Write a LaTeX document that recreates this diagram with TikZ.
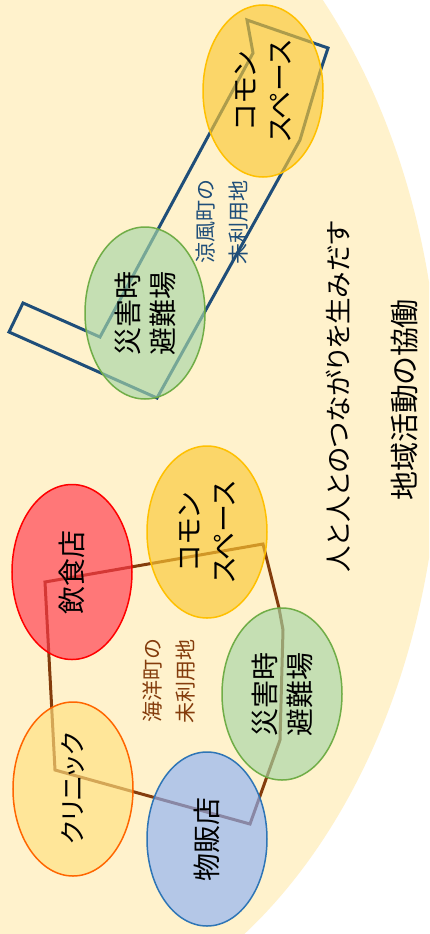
\documentclass[tikz,border=0pt]{standalone}
\usepackage{fontspec}
\newfontfamily\jpfont[RawFeature=+palt]{Noto Sans CJK JP}
\usepackage{tikz}
\usetikzlibrary{shapes.geometric}

\definecolor{BgYellow}{HTML}{FFF2CC}
\definecolor{SuzuBlue}{HTML}{1F4E79}
\definecolor{KaiBrown}{HTML}{843C0C}
\definecolor{CommonFill}{RGB}{250,199,52}
\definecolor{CommonLine}{HTML}{FFC000}
\definecolor{ShelterFill}{RGB}{166,214,167}
\definecolor{ShelterLine}{HTML}{70AD47}
\definecolor{EatFill}{RGB}{255,54,75}
\definecolor{EatLine}{HTML}{FF0000}
\definecolor{ClinicFill}{RGB}{255,224,126}
\definecolor{ClinicLine}{HTML}{FF6600}
\definecolor{ShopFill}{RGB}{140,176,246}
\definecolor{ShopLine}{HTML}{2E75B6}

\begin{document}
\begin{tikzpicture}[x=1bp, y=-1bp, font=\jpfont,
  Spot/.style={ellipse, draw, line width=1.5bp, rotate=90, inner sep=0pt, align=center,
    minimum width=172bp, minimum height=120bp, fill opacity=0.65, text opacity=1,
    font=\jpfont\fontsize{28bp}{35bp}\selectfont},
  Common/.style={Spot, fill=CommonFill, draw=CommonLine},
  Shelter/.style={Spot, fill=ShelterFill, draw=ShelterLine},
  Land/.style={rotate=90, align=center, inner sep=0pt, font=\jpfont\fontsize{21bp}{33bp}\selectfont},
  Slogan/.style={rotate=90, inner sep=0pt, font=\jpfont\fontsize{29bp}{35bp}\selectfont},
  Area/.style={line width=3bp, line join=miter}]

\useasboundingbox (0,0) rectangle (429,934);
\fill [white] (0,0) rectangle (429,934);
\begin{scope}
  \clip (0,0) rectangle (429,934);
  \fill [BgYellow] (0,420) ellipse [x radius=440, y radius=618];
\end{scope}

% unused land of the two towns
\draw [Area, draw=SuzuBlue] (328,48) -- (320,72) -- (300,140) -- (157,398) -- (9,332) -- (23,303)
  -- (100,337) -- (253,53) -- (247,20) -- cycle;
\draw [Area, draw=KaiBrown] (263,544) -- (279,608) -- (283,630) -- (280,740) -- (250,824)
  -- (55,770) -- (45,582) -- cycle;

\node [Common] (commonTop) at (263,91) {コモン\\スペース};
\node [Shelter] (shelterTop) at (145,313) {災害時\\避難場};

\node [Common] (commonLow) at (207,532) {コモン\\スペース};
\node [Spot, fill=EatFill, draw=EatLine, minimum width=175bp] (eatery) at (72,572) {飲食店};
\node [Shelter] (shelterLow) at (282,694) {災害時\\避難場};
\node [Spot, fill=ClinicFill, draw=ClinicLine, minimum width=174bp,
  font=\jpfont\fontsize{26bp}{35bp}\selectfont] (clinic) at (73,789) {クリニック};
\node [Spot, fill=ShopFill, draw=ShopLine, minimum width=174bp] (shop) at (207,839) {物販店};

\node [Land, text=SuzuBlue] (suzuLand) at (222,222) {涼風町の\\未利用地};
\node [Land, text=KaiBrown] (kaiLand) at (169,681) {海洋町の\\未利用地};

\node [Slogan, font=\jpfont\fontsize{26.5bp}{35bp}\selectfont] (tieText) at (338,397) {人と人とのつながりを生みだす};
\node [Slogan] (workText) at (405,400) {地域活動の協働};
\end{tikzpicture}
\end{document}
